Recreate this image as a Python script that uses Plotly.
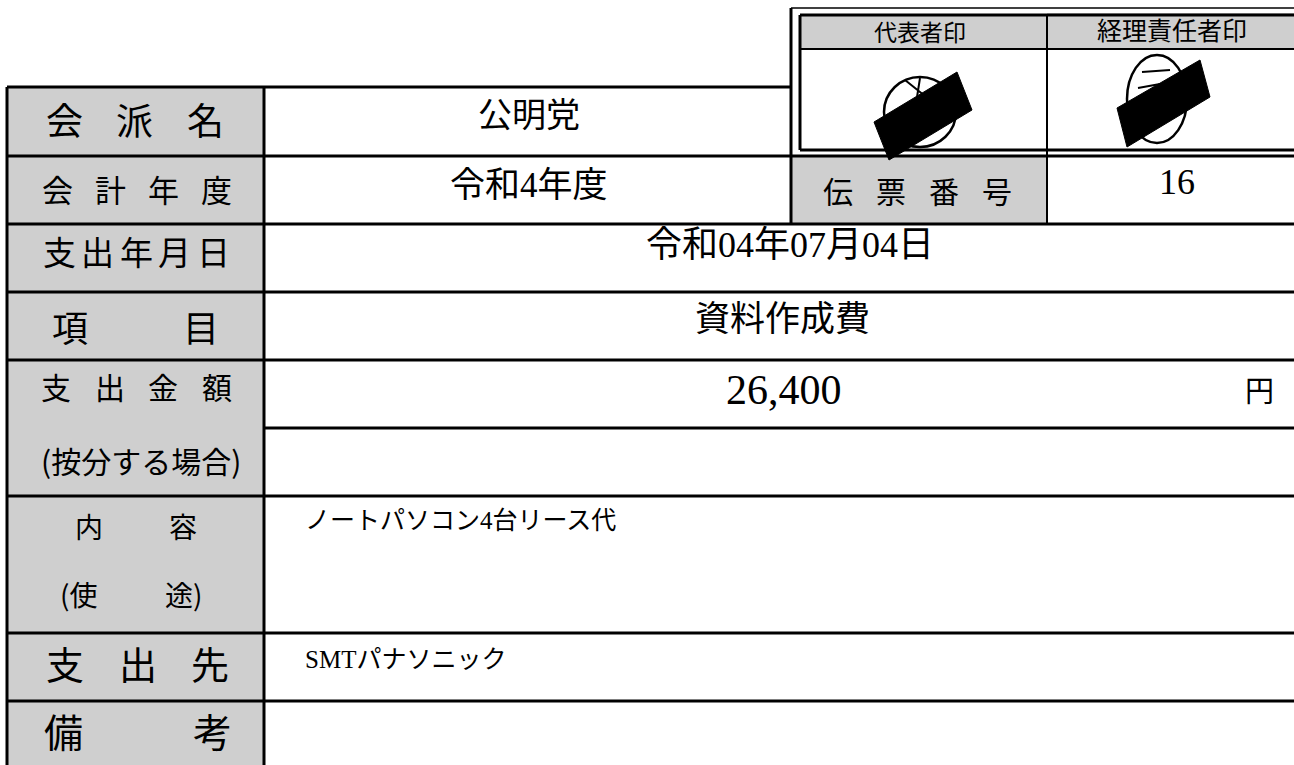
import plotly.graph_objects as go

W, H = 1294, 765

# ---------------- data (texts of the form) ----------------
label_tokens = [
    ["会", "派", "名"],
    ["会", "計", "年", "度"],
    ["支", "出", "年", "月", "日"],
    ["項", "目"],
    ["支", "出", "金", "額"],
    ["(按分する場合)"],
    ["内", "容"],
    ["(使", "途)"],
    ["支", "出", "先"],
    ["備", "考"],
]
party = "公明党"
fiscal_year = "令和4年度"
slip_label = ["伝", "票", "番", "号"]
slip_number = "16"
spend_date = "令和04年07月04日"
item = "資料作成費"
amount = "26,400"
currency = "円"
content = "ノートパソコン4台リース代"
payee = "SMTパナソニック"
remarks = ""
stamp_headers = ["代表者印", "経理責任者印"]

# ---------------- layout specs (positions / styles) ----------------
# (y centre, font size, x of first token centre, x of last token centre)
label_layout = [
    (119, 37, 64, 205),
    (188, 31, 57, 216),
    (251, 33, 59, 213),
    (326, 36, 70, 201),
    (386, 30, 56, 217),
    (460, 30, 141, 141),
    (526, 28, 89, 183),
    (594, 28, 78, 183),
    (662, 38, 65, 210),
    (730, 39, 63, 212),
]
JP = "Noto Sans CJK JP"
MIX = "Liberation Serif, Noto Sans CJK JP"
GRAY = "#cfcfcf"
LW = 3

X_LEFT, X_LAB, X_BOX, X_DIV = 7, 264, 791, 1047
ROW_Y = [87, 156, 224, 292, 360, 428, 496, 633, 701]

fig = go.Figure()
fig.add_trace(go.Scatter(x=[0, W], y=[0, H], mode="markers",
                         marker=dict(opacity=0), hoverinfo="skip", showlegend=False))

def rect(x0, y0, x1, y1, fill):
    fig.add_shape(type="rect", x0=x0, y0=y0, x1=x1, y1=y1, xref="x", yref="y",
                  fillcolor=fill, line=dict(width=0), layer="below")

def line(x0, y0, x1, y1, w=LW):
    fig.add_shape(type="line", x0=x0, y0=y0, x1=x1, y1=y1, xref="x", yref="y",
                  line=dict(color="black", width=w))

def text(t, x, y, size, family=JP, xanchor="center"):
    fig.add_annotation(text=t, x=x, y=y, xref="x", yref="y", showarrow=False,
                       xanchor=xanchor, yanchor="middle",
                       font=dict(family=family, size=size, color="black"))

# gray label cells
rect(X_LEFT, ROW_Y[0], X_LAB, H + 10, GRAY)
rect(X_BOX, ROW_Y[1], X_DIV, ROW_Y[2], GRAY)
rect(800, 15, X_DIV, 49, GRAY)
rect(X_DIV, 13, W + 10, 49, GRAY)

# main table lines
line(X_LEFT, ROW_Y[0], X_BOX, ROW_Y[0])
for y in ROW_Y[1:]:
    x0 = X_LAB if y == 428 else X_LEFT
    line(x0, y, W + 10, y)
line(X_LEFT, ROW_Y[0], X_LEFT, H + 10)
line(X_LAB, ROW_Y[0], X_LAB, H + 10)
line(X_BOX, 8, X_BOX, ROW_Y[2])
line(X_DIV, 15, X_DIV, ROW_Y[2], 2)

# stamp box (double border)
line(X_BOX, 8, W + 10, 8, 1.5)
line(800, 15, W + 10, 15, 3)
line(800, 15, 800, 150, 3)
line(800, 150, W + 10, 150, 3)
line(800, 49, W + 10, 49, 2)

# stamps (outlines + redaction bars)
fig.add_shape(type="circle", x0=884, y0=77, x1=956, y1=147, xref="x", yref="y",
              line=dict(color="black", width=2.5))
fig.add_shape(type="path", path="M 905 80 L 930 100 M 920 78 L 915 110 M 945 92 L 925 105",
              xref="x", yref="y", line=dict(color="black", width=2))
fig.add_shape(type="path", path="M 874 122 L 957 72 L 972 110 L 889 160 Z",
              xref="x", yref="y", fillcolor="black", line=dict(color="black", width=1))
fig.add_shape(type="circle", x0=1127, y0=55, x1=1187, y1=143, xref="x", yref="y",
              line=dict(color="black", width=2.5))
fig.add_shape(type="path", path="M 1142 72 L 1170 70 M 1138 88 L 1160 84 M 1150 125 L 1172 118",
              xref="x", yref="y", line=dict(color="black", width=2))
fig.add_shape(type="path", path="M 1117 108 L 1200 60 L 1210 97 L 1127 147 Z",
              xref="x", yref="y", fillcolor="black", line=dict(color="black", width=1))

# labels (distributed across the label cell)
for tokens, (yc, size, xa, xb) in zip(label_tokens, label_layout):
    n = len(tokens)
    for i, tok in enumerate(tokens):
        xc = xa if n == 1 else xa + (xb - xa) * i / (n - 1)
        text(tok, xc, yc, size)

# slip number label
for i, tok in enumerate(slip_label):
    text(tok, 838 + (997 - 838) * i / (len(slip_label) - 1), 190, 30)

# stamp headers
text(stamp_headers[0], 920, 31, 23)
text(stamp_headers[1], 1172, 29, 25)

# values
text(party, 529, 115, 34, MIX)
text(fiscal_year, 529, 185, 35, MIX)
text(slip_number, 1177, 182, 36, MIX)
text(spend_date, 790, 245, 36, MIX)
text(item, 782, 319, 35, MIX)
text(amount, 784, 390, 42, MIX)
text(currency, 1259, 392, 29, MIX)
text(content, 303, 520, 25, MIX, xanchor="left")
text(payee, 303, 659, 25, MIX, xanchor="left")
text(remarks, 303, 730, 25, MIX, xanchor="left")

fig.update_layout(
    width=W, height=H, margin=dict(l=0, r=0, t=0, b=0),
    paper_bgcolor="white", plot_bgcolor="white", showlegend=False,
    xaxis=dict(range=[0, W], visible=False, fixedrange=True),
    yaxis=dict(range=[H, 0], visible=False, fixedrange=True),
)

fig.write_html("out.html", config={"displayModeBar": False},
               post_script="document.body.style.margin='0';document.body.style.overflow='hidden';")
